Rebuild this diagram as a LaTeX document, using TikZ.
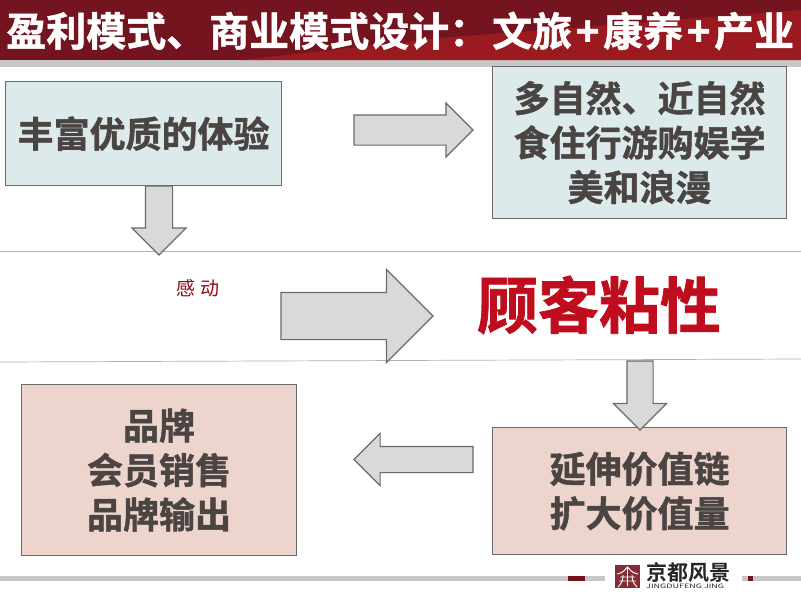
\documentclass[tikz,border=0pt]{standalone}
\usepackage{fontspec}
\usepackage{graphicx}
\setmainfont{Noto Sans CJK SC}
\newfontfamily\cjkB{Noto Sans CJK SC Bold}
\newfontfamily\cjkH[FakeBold=1.2]{Noto Sans CJK SC Bold}
\usetikzlibrary{shapes.arrows}
\definecolor{hdA}{HTML}{74141F}
\definecolor{hdB}{HTML}{9A1A20}
\definecolor{boxblue}{HTML}{DCEAEC}
\definecolor{boxpink}{HTML}{EDD4CD}
\definecolor{edge}{HTML}{6A6A6A}
\definecolor{arrowfill}{HTML}{D9D9D9}
\definecolor{txt}{HTML}{4A4543}
\definecolor{hot}{HTML}{C00D1E}
\tikzset{
 tb/.style={draw=edge,line width=1.2pt,inner sep=0pt,align=center,font=\cjkH\fontsize{36}{44.5}\selectfont,text=txt},
 blk/.style={single arrow,draw=edge,fill=arrowfill,line width=1.2pt,single arrow tip angle=90,single arrow head indent=0pt,anchor=tail,outer sep=0pt},
 blkh/.style={blk,inner xsep=0pt,inner ysep=#1},
 blkv/.style={blk,shape border rotate=270,inner ysep=0pt,inner xsep=#1},
 rule/.style={draw=black!30,line width=0.7pt},
 graybar/.style={fill=black!22},
}
\begin{document}
\begin{tikzpicture}[x=1pt,y=-1pt]
\useasboundingbox (0,0) rectangle (801,592);
\fill[white] (0,0) rectangle (801,592);
\fill[graybar] (0,60) rectangle (801,67);
\fill[hdA] (0,0) rectangle (801,60);
\fill[hdB] (240,60) -- (440,38) -- (801,10) -- (801,60) -- cycle;
\node[anchor=west,text=white,font=\cjkH\fontsize{40}{40}\selectfont,inner sep=0pt] (title) at (6,31) {盈利模式、\hspace{3pt}商业模式设计：\hspace{3pt}文旅\hspace{3.7pt}+\hspace{3.7pt}康养\hspace{3.7pt}+\hspace{3.7pt}产业};
\draw[rule] (0,251) -- (801,251);
\draw[rule] (0,362) -- (801,359);
\node[tb,fill=boxblue,anchor=north west,minimum width=276pt,minimum height=104pt] (b1) at (5,81) {丰富优质的体验};
\node[tb,fill=boxblue,anchor=north west,minimum width=294pt,minimum height=152pt] (b2) at (492,66) {多自然、近自然\\食住行游购娱学\\美和浪漫};
\node[tb,fill=boxpink,anchor=north west,minimum width=275pt,minimum height=171pt] (b3) at (21,384) {品牌\\会员销售\\品牌输出};
\node[tb,fill=boxpink,anchor=north west,minimum width=294pt,minimum height=127pt] (b4) at (492,427) {延伸价值链\\扩大价值量};
\node[blkh=14.5pt,minimum height=119pt,single arrow head extend=12pt] (a1) at (354,130) {};
\node[blkv=13pt,minimum height=69pt,single arrow head extend=13.5pt] (a2) at (159,186) {};
\node[blkh=23pt,minimum height=152pt,single arrow head extend=23pt] (a3) at (281,316) {};
\node[blkv=12.5pt,minimum height=69pt,single arrow head extend=13.5pt] (a4) at (640,361) {};
\node[blkh=12.5pt,shape border rotate=180,minimum height=119pt,single arrow head extend=13pt] (a5) at (473,459.5) {};
\node[text=hot!75!black,font=\fontsize{19}{20}\selectfont,inner sep=0pt] (gd) at (198,288) {感 动};
\node[text=hot,font=\cjkH\fontsize{61}{64}\selectfont,inner sep=0pt] (gk) at (599,305) {顾客粘性};
% footer
\fill[graybar] (0,576) rectangle (605,581);
\fill[graybar] (742,576) rectangle (801,581);
\fill[hdA] (568,576) rectangle (585,581);
\fill[hdA] (748,576) rectangle (753,581);
% logo mark
\fill[hdA!90] (615,565) rectangle (640,588);
\draw[white,line width=1pt] (617,574) .. controls (623,573) and (625,570) .. (627.5,567) .. controls (630,570) and (632,573) .. (638,574);
\draw[white,line width=0.9pt] (620,577) -- (635,577) (619,581) -- (636,581) (627.5,567) -- (627.5,586)
 (623,575) .. controls (623,581) and (621,584) .. (618,587) (632,575) .. controls (632,581) and (634,584) .. (637,587);
\node[anchor=west,text=black!85,font=\cjkB\fontsize{21}{21}\selectfont,inner sep=0pt] (lt) at (646,572.5) {京都风景};
\node[anchor=west,text=black!85,font=\fontsize{6}{6}\selectfont,inner sep=0pt] (le) at (646,586.5) {\scalebox{1.5}[1]{JINGDUFENG JING}};
\end{tikzpicture}
\end{document}
